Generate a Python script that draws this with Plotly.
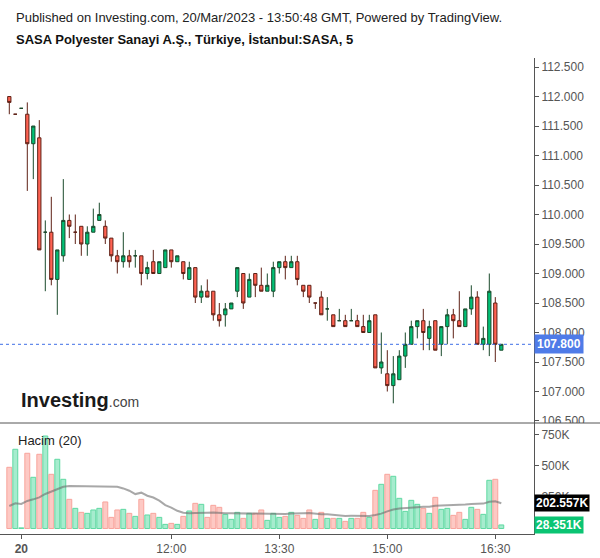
import plotly.graph_objects as go
import pandas as pd

# ---------------- data (5-minute candles) ----------------
opens = [112.0, 111.7, 111.8, 111.7, 111.2, 111.3, 109.7, 109.7, 108.9, 109.3,
         109.9, 109.7, 109.8, 109.5, 109.7, 109.9, 109.8, 109.6, 109.3, 109.2,
         109.3, 109.3, 109.3, 109.0, 109.2, 109.0, 109.1, 109.4, 109.2, 109.2,
         108.9, 109.1, 108.6, 108.7, 108.7, 108.3, 108.3, 108.4, 108.7, 109.0,
         108.6, 109.0, 108.8, 108.7, 108.7, 109.1, 109.2, 109.1, 109.2, 108.8,
         108.8, 108.5, 108.6, 108.4, 108.3, 108.2, 108.2, 108.2, 108.2, 108.1,
         108.0, 108.3, 107.4, 107.3, 107.1, 107.2, 107.6, 107.8, 108.1, 108.2,
         107.9, 108.2, 107.8, 108.1, 108.3, 108.2, 108.1, 108.4, 108.6, 107.8,
         107.8, 108.5, 107.7]
highs = [112.0, 111.7, 111.8, 111.9, 111.5, 111.6, 109.9, 110.3, 109.4, 110.6,
         110.0, 110.0, 109.8, 109.8, 110.1, 110.2, 109.9, 109.6, 109.4, 109.7,
         109.4, 109.4, 109.3, 109.2, 109.4, 109.2, 109.4, 109.4, 109.3, 109.2,
         109.2, 109.1, 108.8, 108.9, 108.7, 108.5, 108.5, 108.5, 109.1, 109.0,
         109.0, 109.0, 109.1, 109.0, 109.2, 109.2, 109.3, 109.3, 109.3, 108.8,
         108.8, 108.5, 108.7, 108.6, 108.3, 108.4, 108.3, 108.4, 108.3, 108.3,
         108.3, 108.3, 108.0, 107.7, 107.6, 107.7, 108.0, 108.2, 108.2, 108.4,
         108.2, 108.2, 108.1, 108.4, 108.4, 108.7, 108.4, 108.8, 108.7, 108.1,
         109.0, 108.6, 107.8]
lows = [111.7, 111.7, 111.8, 110.4, 110.6, 109.4, 108.7, 108.8, 108.3, 109.2,
        109.6, 109.5, 109.3, 109.3, 109.7, 109.9, 109.5, 109.2, 109.0, 109.1,
        109.1, 109.1, 108.8, 108.9, 109.0, 109.0, 109.1, 109.1, 109.2, 108.9,
        108.9, 108.5, 108.5, 108.6, 108.2, 108.1, 108.1, 108.4, 108.6, 108.4,
        108.6, 108.6, 108.7, 108.7, 108.6, 109.0, 108.9, 109.1, 108.8, 108.6,
        108.5, 108.4, 108.3, 108.2, 108.1, 108.2, 108.1, 108.2, 108.1, 108.0,
        108.0, 107.4, 107.3, 107.0, 106.8, 107.2, 107.4, 107.8, 107.9, 107.7,
        107.7, 107.7, 107.6, 107.8, 107.9, 108.1, 108.1, 108.3, 107.8, 107.7,
        107.6, 107.5, 107.7]
closes = [111.9, 111.7, 111.8, 111.2, 111.5, 109.4, 109.7, 108.9, 109.4, 109.9,
          109.8, 109.7, 109.5, 109.7, 109.8, 110.0, 109.6, 109.3, 109.2, 109.3,
          109.2, 109.3, 109.0, 109.1, 109.0, 109.2, 109.4, 109.2, 109.3, 109.0,
          109.1, 108.6, 108.7, 108.6, 108.3, 108.2, 108.4, 108.5, 109.1, 108.5,
          108.9, 108.8, 108.7, 108.8, 109.1, 109.2, 109.1, 109.2, 108.9, 108.7,
          108.6, 108.5, 108.3, 108.4, 108.1, 108.2, 108.1, 108.2, 108.1, 108.0,
          108.2, 107.4, 107.5, 107.1, 107.3, 107.6, 107.8, 108.1, 108.2, 108.0,
          108.1, 107.7, 108.1, 108.3, 108.2, 108.1, 108.4, 108.6, 107.8, 107.9,
          108.7, 107.8, 107.8]
volumes_k = [489, 633, 5, 601, 409, 593, 739, 433, 553, 393,
             233, 161, 129, 121, 148, 161, 212, 89, 148, 153,
             121, 97, 233, 108, 121, 89, 33, 41, 33, 97,
             140, 201, 193, 89, 185, 169, 113, 73, 129, 81,
             121, 121, 148, 65, 121, 89, 97, 129, 105, 81,
             148, 73, 129, 81, 81, 81, 57, 81, 81, 129,
             89, 305, 353, 433, 417, 241, 137, 225, 193, 161,
             121, 249, 153, 161, 105, 129, 73, 169, 153, 113,
             385, 393, 28.351]
# Volume MA(20) for the first 19 bars (depends on the previous session)
vol_ma_head_k = [180, 201, 196, 220, 233, 249, 276, 297, 318, 334,
                 340, 340, 340, 340, 340, 340, 340, 340, 334]

tick_idx = [2, 27, 45, 63, 81]
tick_labels = ["<b>20</b>", "12:00", "13:30", "15:00", "16:30"]
price_ticks = [106.5, 107.0, 107.5, 108.0, 108.5, 109.0, 109.5, 110.0,
               110.5, 111.0, 111.5, 112.0, 112.5]
vol_ticks = [250000, 500000, 750000]
vol_tick_labels = ["250K", "500K", "750K"]
ma_label = "202.557K"
vol_label = "28.351K"

title1 = "Published on Investing.com, 20/Mar/2023 - 13:50:48 GMT, Powered by TradingView."
title2 = "SASA Polyester Sanayi A.Ş., Türkiye, İstanbul:SASA, 5"

# ---------------- derived ----------------
x = list(range(len(opens)))
volumes = [v * 1000 for v in volumes_k]
ma = pd.Series(volumes, dtype=float).rolling(20).mean()
for i, v in enumerate(vol_ma_head_k):
    ma.iloc[i] = v * 1000

up = [c >= o for o, c in zip(opens, closes)]
vol_fill = ["#a6ecce" if u else "#fdc9c4" for u in up]
vol_line = ["#5fd9a2" if u else "#f8a39c" for u in up]

FONT = "Liberation Sans, Arial, sans-serif"
AX = "#555555"

fig = go.Figure()
fig.add_trace(go.Bar(
    x=x, y=volumes, xaxis="x", yaxis="y2",
    marker=dict(color=vol_fill, line=dict(color=vol_line, width=1)),
    hoverinfo="skip"))
fig.add_trace(go.Scatter(
    x=x, y=ma, xaxis="x", yaxis="y2", mode="lines",
    line=dict(color="rgba(110,110,110,0.6)", width=2), hoverinfo="skip"))
fig.add_trace(go.Candlestick(
    x=x, open=opens, high=highs, low=lows, close=closes,
    xaxis="x", yaxis="y",
    increasing=dict(fillcolor="#00c176", line=dict(color="#1b4a2c", width=1)),
    decreasing=dict(fillcolor="#ff6252", line=dict(color="#5e2116", width=1)),
    whiskerwidth=0, hoverinfo="skip"))

W, H = 600, 558
L, R, T, B = 0, 66, 58, 24
pw, ph = W - L - R, H - T - B
def py(ypix):
    return (H - B - ypix) / ph
def px(xpix):
    return (xpix - L) / pw

split = py(423)

fig.update_layout(
    width=W, height=H,
    margin=dict(l=L, r=R, t=T, b=B),
    paper_bgcolor="white", plot_bgcolor="white",
    showlegend=False,
    bargap=0.18,
    boxgap=0.22,
    font=dict(family=FONT, color=AX, size=12),
    xaxis=dict(domain=[0, 1], range=[-1.55, 87.45], anchor="y2",
               tickvals=tick_idx, ticktext=tick_labels,
               ticks="outside", ticklen=4, tickcolor=AX,
               showline=True, linecolor=AX, linewidth=1,
               showgrid=False, zeroline=False,
               tickfont=dict(size=12, color=AX),
               rangeslider=dict(visible=False), fixedrange=True),
    yaxis=dict(domain=[split, 1], range=[106.466, 112.653], side="right",
               anchor="x", tickvals=price_ticks, tickformat=".3f",
               ticks="outside", ticklen=4, tickcolor=AX,
               showline=True, linecolor=AX, linewidth=1,
               showgrid=False, zeroline=False,
               tickfont=dict(size=12, color=AX)),
    yaxis2=dict(domain=[0, split], range=[-44000, 843000], side="right",
                anchor="x", tickvals=vol_ticks, ticktext=vol_tick_labels,
                ticks="outside", ticklen=4, tickcolor=AX,
                showline=True, linecolor=AX, linewidth=1,
                showgrid=False, zeroline=False,
                tickfont=dict(size=12, color=AX)),
)

shapes = [
    # hide lower half of the 106.500 label (clipped by the pane separator)
    dict(type="rect", xref="paper", yref="paper", x0=px(535), x1=px(600),
         y0=py(430), y1=split, fillcolor="white", line=dict(width=0), layer="above"),
    # pane separator across the full width
    dict(type="line", xref="paper", yref="paper", x0=0, x1=px(600),
         y0=split, y1=split, line=dict(color=AX, width=1), layer="above"),
    # last price line
    dict(type="line", xref="paper", yref="y", x0=0, x1=1,
         y0=closes[-1], y1=closes[-1], line=dict(color="#3f6fe6", width=1, dash="dot")),
]
fig.update_layout(shapes=shapes)

ann = [
    dict(xref="paper", yref="paper", x=px(14), y=py(17), xanchor="left", yanchor="middle",
         text=title1, showarrow=False, font=dict(size=13, color="#222222", family=FONT)),
    dict(xref="paper", yref="paper", x=px(14), y=py(40), xanchor="left", yanchor="middle",
         text="<b>" + title2 + "</b>", showarrow=False, font=dict(size=13, color="#111111", family=FONT)),
    dict(xref="paper", yref="paper", x=px(16), y=py(440), xanchor="left", yanchor="middle",
         text="Hacim (20)", showarrow=False, font=dict(size=13, color="#222222", family=FONT)),
    dict(xref="paper", yref="paper", x=px(19), y=py(400), xanchor="left", yanchor="middle",
         text="<b>Investing</b><span style='font-size:14px;color:#444444'>.com</span>",
         showarrow=False, font=dict(size=20, color="#1a1a1a", family=FONT)),
    dict(xref="paper", yref="y", x=1, y=closes[-1], xanchor="left", yanchor="middle",
         text="<b>%.3f</b>" % closes[-1], showarrow=False, bgcolor="#4f7be8",
         borderpad=2, font=dict(size=12, color="white", family=FONT)),
    dict(xref="paper", yref="y2", x=1, y=float(ma.iloc[-1]), xanchor="left", yanchor="middle",
         text="<b>" + ma_label + "</b>", showarrow=False, bgcolor="#000000",
         borderpad=1, font=dict(size=12, color="white", family=FONT)),
    dict(xref="paper", yref="y2", x=1, y=volumes[-1], xanchor="left", yanchor="middle",
         text="<b>" + vol_label + "</b>", showarrow=False, bgcolor="#0bc473",
         borderpad=1, font=dict(size=12, color="white", family=FONT)),
]
fig.update_layout(annotations=ann)

fig.write_html("out.html")
